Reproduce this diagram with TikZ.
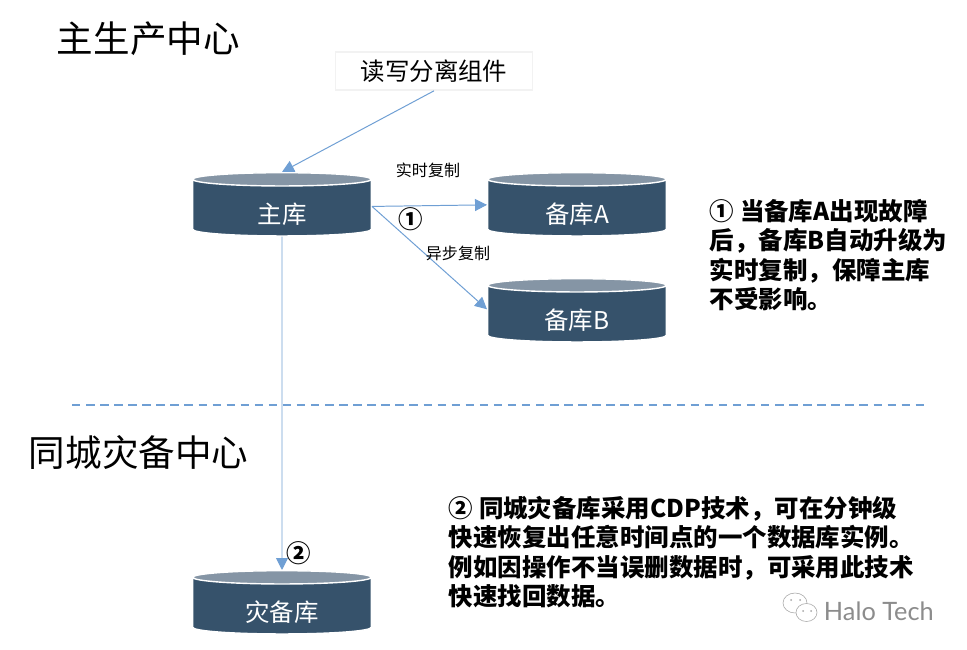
\documentclass[tikz,border=0pt]{standalone}
\usepackage{fontspec}
\setmainfont{Noto Sans CJK SC}
\newfontfamily\latinfont{Lato}
\usetikzlibrary{arrows.meta,shapes.geometric}
\definecolor{dbbody}{HTML}{36526B}
\definecolor{dbtop}{HTML}{8595A5}
\definecolor{linkblue}{HTML}{6F9FD4}
\newcommand{\px}[1]{\fontsize{#1}{#1}\selectfont}
\newcommand{\dblabel}[1]{\makebox[35pt]{#1}}
\begin{document}
\begin{tikzpicture}[x=0.025cm,y=-0.025cm]
\tikzstyle{db}=[cylinder,shape border rotate=90,aspect=0.27,draw=white,line width=1pt,cylinder uses custom fill,cylinder end fill=dbtop,cylinder body fill=dbbody,minimum width=127pt,minimum height=45pt,inner sep=0pt,text=white,text height=25pt,text depth=3pt,font=\px{17.4}]
\tikzstyle{link}=[linkblue,line width=0.7pt,-{Triangle[length=8.5pt,width=8.5pt]}]
\tikzstyle{title}=[anchor=west,font=\px{26}]
\tikzstyle{note}=[anchor=north west,align=left,font=\fontsize{17.4}{21}\selectfont\bfseries]
\tikzstyle{tag}=[font=\px{11.4}]
\tikzstyle{num}=[font=\px{17.4}\bfseries]
\useasboundingbox (0,0) rectangle (967,650);
\fill[white] (0,0) rectangle (967,650);
\node[title] (prod) at (52,39) {主生产中心};
\node[title] (dr) at (24,453) {同城灾备中心};
\node[draw=black!5,line width=1.2pt,minimum width=140pt,minimum height=27pt,inner sep=0pt,font=\px{17.4}] (rw) at (434,71) {读写分离组件};
\node[db] (master) at (282,208) {\dblabel{主库}};
\node[db] (slavea) at (577,208) {\dblabel{备库A}};
\node[db] (slaveb) at (577,314) {\dblabel{备库B}};
\node[db] (drdb) at (282,606) {\dblabel{灾备库}};
\draw[link] (rw.south) -- (master.north);
\draw[link] (master.1) -- (slavea.178);
\draw[link] (master.1) -- (slaveb.177);
\draw[link] (master.south) -- (drdb.north);
\coordinate (sepl) at (72,405);
\coordinate (sepr) at (925,405);
\draw[linkblue,line width=0.8pt,dash pattern=on 6pt off 4pt] (sepl) -- (sepr);
\node[tag] (rt) at (428,170) {实时复制};
\node[tag] (async) at (458,253) {异步复制};
\node[num] (one) at (411,219) {①};
\node[num] (two) at (299,553) {②};
\node[note] (notea) at (705,194) {① 当备库A出现故障\\后，备库B自动升级为\\实时复制，保障主库\\不受影响。};
\node[note] (noteb) at (444,491) {② 同城灾备库采用CDP技术，可在分钟级\\快速恢复出任意时间点的一个数据库实例。\\例如因操作不当误删数据时，可采用此技术\\快速找回数据。};
\node[anchor=west,text=black!45,font=\latinfont\px{18}] (halo) at (819,611) {Halo Tech};
\draw[black!35,line width=0.4pt,fill=white] (795,603) ellipse (12 and 10);
\draw[black!35,line width=0.4pt,fill=white] (806.5,612.5) ellipse (10.5 and 9);
\foreach \ex/\ey in {791/600,800/600,803/611,811/611} \fill[black!35] (\ex,\ey) circle (1);
\end{tikzpicture}
\end{document}
